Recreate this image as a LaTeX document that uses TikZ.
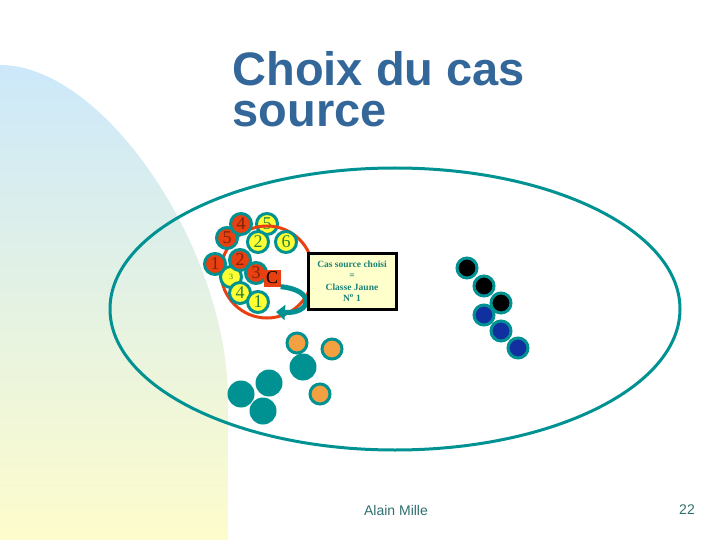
\documentclass[tikz,border=0pt]{standalone}
\definecolor{slidetitle}{RGB}{51,102,153}
\definecolor{ringteal}{RGB}{0,146,146}
\definecolor{ballred}{RGB}{232,64,16}
\definecolor{ballyellow}{RGB}{255,255,51}
\definecolor{ballorange}{RGB}{242,160,64}
\definecolor{ballblue}{RGB}{16,48,160}
\definecolor{digitgreen}{RGB}{40,130,60}
\definecolor{notefill}{RGB}{255,255,204}
\definecolor{notetext}{RGB}{26,130,120}
\definecolor{footer}{RGB}{47,111,111}
\definecolor{skytop}{RGB}{204,232,250}
\definecolor{skybottom}{RGB}{253,252,204}
\usepackage{fontspec}
\setmainfont{Liberation Serif}
\newfontfamily\arialfont{Liberation Sans}
\usepackage{tikz}
\usetikzlibrary{arrows.meta}

\begin{document}
\begin{tikzpicture}[
  x=1pt, y=-1pt,
  every node/.style={font=\fontsize{18}{18}\selectfont},
  ball/.style={circle, draw=ringteal, line width=3pt, minimum size=21pt, inner sep=0pt},
  redball/.style={ball, fill=ballred, text=ballred!55!black},
  yellowball/.style={ball, fill=ballyellow, text=digitgreen},
  caseball/.style={ball, minimum size=20pt},
  plainball/.style={circle, fill=ringteal, minimum size=27pt, inner sep=0pt},
  note/.style={draw=black, line width=3pt, fill=notefill, minimum width=88pt, minimum height=56pt,
    align=center, text=notetext, font=\bfseries\fontsize{9.5}{11.5}\selectfont},
  heading/.style={anchor=base west, text=slidetitle, font=\arialfont\bfseries\fontsize{47}{47}\selectfont},
  foot/.style={text=footer, font=\arialfont\fontsize{14}{14}\selectfont}
]
\useasboundingbox (0,0) rectangle (720,540);

% Fond degrade a gauche
\shade[top color=skytop, bottom color=skybottom]
  (0,540) -- (0,65) .. controls (105,65) and (228,250) .. (228,400) -- (228,540) -- cycle;

% Titre
\node[heading] (title) at (229,86) {Choix du cas};
\node[heading] (title2) at (229,127) {source};

% Base de cas
\draw[ringteal, line width=3pt] (395,309) ellipse [x radius=285pt, y radius=141pt];

% Classes proches du probleme
\node[yellowball] (y5) at (267,224) {5};
\draw[ballred, line width=3pt] (267,272) circle [radius=46pt];
\node[redball] (r5) at (227,238) {5};
\node[redball] (r4) at (241,224) {4};
\node[yellowball, font=\fontsize{8}{8}\selectfont] (y3) at (231,277) {3};
\node[redball] (r1) at (215,264) {1};
\node[redball] (r2) at (240,260) {2};
\node[redball] (r3) at (256,273) {3};
\node[yellowball] (y2) at (258,242) {2};
\node[yellowball] (y6) at (286,242) {6};
\node[yellowball] (y4) at (240,293) {4};
\node[yellowball] (y1) at (258,302) {1};
\node[fill=ballred, minimum size=17pt, inner sep=0pt, font=\fontsize{18}{18}\selectfont] (cbox) at (272,278) {C};

% Choix
\coordinate (pick) at (276,312);
\draw[ringteal, line width=5pt, -{Triangle[length=9pt,width=15pt]}]
  (cbox.south east) .. controls (316,290) and (312,314) .. (pick);

\node[note] (choice) at (352,281) {Cas source choisi\\=\\Classe Jaune\\N\textsuperscript{o} 1};

% Autres classes
\node[caseball, fill=black] (k1) at (467,268) {};
\node[caseball, fill=black] (k2) at (484,286) {};
\node[caseball, fill=black] (k3) at (501,303) {};
\node[caseball, fill=ballblue] (b1) at (484,315) {};
\node[caseball, fill=ballblue] (b2) at (501,331) {};
\node[caseball, fill=ballblue] (b3) at (518,348) {};

\node[caseball, fill=ballorange] (o1) at (297,343) {};
\node[caseball, fill=ballorange] (o2) at (332,349) {};
\node[plainball] (t1) at (303,367) {};
\node[caseball, fill=ballorange] (o3) at (320,394) {};
\node[plainball] (t2) at (269,383) {};
\node[plainball] (t3) at (241,394) {};
\node[plainball] (t4) at (263,411) {};

% Pied de page
\node[foot] (author) at (396,510) {Alain Mille};
\node[foot] (page) at (687,510) {22};
\end{tikzpicture}
\end{document}
